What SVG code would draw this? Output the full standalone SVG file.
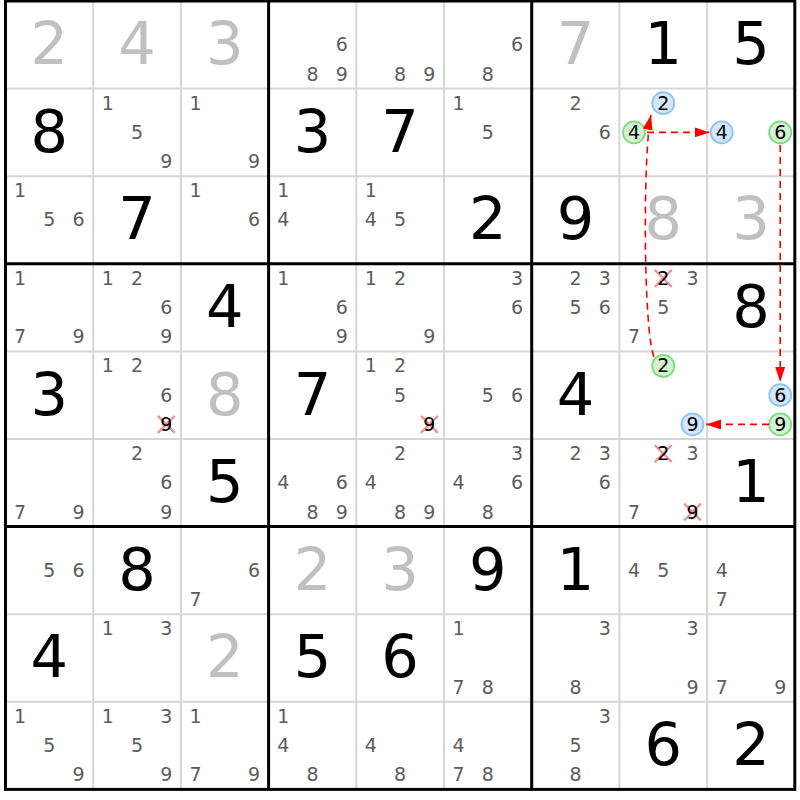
<svg xmlns="http://www.w3.org/2000/svg" width="800" height="800" viewBox="0 0 800 800">
<defs>
<style>
.thin{stroke:#d6d6d6;stroke-width:2;fill:none}
.thick{stroke:#000;stroke-width:3;fill:none}
text{font-family:"DejaVu Sans","Liberation Sans",sans-serif;text-anchor:middle}
.c{font-size:19px;fill:#5c5c5c}
.k{font-size:19px;fill:#000}
.b{font-size:59px;fill:#000}
.g{font-size:59px;fill:#c0c0c0}
.x{stroke:#f29090;stroke-width:2.2;fill:none}
.cg{fill:#d3f4d3;stroke:#7ddb7d;stroke-width:1.8}
.cb{fill:#d3e7fc;stroke:#8dc3f5;stroke-width:1.8}
.link{stroke:#ff0000;stroke-width:1.6;fill:none;stroke-dasharray:7 5;marker-end:url(#ah)}
</style>
<marker id="ah" markerUnits="userSpaceOnUse" markerWidth="16" markerHeight="10" refX="15" refY="5" orient="auto">
<path d="M0,0 L15,5 L0,10 z" fill="#ff0000"/>
</marker>
</defs>
<rect x="0" y="0" width="800" height="800" fill="#ffffff"/>
<g id="grid">
<path class="thin" d="M93.2,1V789.4M180.9,1V789.4M356.3,1V789.4M444,1V789.4M619.4,1V789.4M707.1,1V789.4M5.5,88.6H794.8M5.5,176.2H794.8M5.5,351.4H794.8M5.5,439H794.8M5.5,614.2H794.8M5.5,701.8H794.8"/>
<path class="thick" d="M268.6,1V789.4M531.7,1V789.4M5.5,263.8H794.8M5.5,526.6H794.8"/>
<rect class="thick" x="5.5" y="1" width="789.3" height="788.4"/>
</g>
<g id="cells">
<!-- row 1 -->
<g id="r1c1" transform="translate(5.5,1)"><text class="g" x="43.85" y="63.3">2</text></g>
<g id="r1c2" transform="translate(93.2,1)"><text class="g" x="43.85" y="63.3">4</text></g>
<g id="r1c3" transform="translate(180.9,1)"><text class="g" x="43.85" y="63.3">3</text></g>
<g id="r1c4" transform="translate(268.6,1)"><text class="c" x="73.1" y="50.3">6</text><text class="c" x="43.85" y="79.5">8</text><text class="c" x="73.1" y="79.5">9</text></g>
<g id="r1c5" transform="translate(356.3,1)"><text class="c" x="43.85" y="79.5">8</text><text class="c" x="73.1" y="79.5">9</text></g>
<g id="r1c6" transform="translate(444,1)"><text class="c" x="73.1" y="50.3">6</text><text class="c" x="43.85" y="79.5">8</text></g>
<g id="r1c7" transform="translate(531.7,1)"><text class="g" x="43.85" y="63.3">7</text></g>
<g id="r1c8" transform="translate(619.4,1)"><text class="b" x="43.85" y="63.3">1</text></g>
<g id="r1c9" transform="translate(707.1,1)"><text class="b" x="43.85" y="63.3">5</text></g>
<!-- row 2 -->
<g id="r2c1" transform="translate(5.5,88.6)"><text class="b" x="43.85" y="63.3">8</text></g>
<g id="r2c2" transform="translate(93.2,88.6)"><text class="c" x="14.6" y="21.1">1</text><text class="c" x="43.85" y="50.3">5</text><text class="c" x="73.1" y="79.5">9</text></g>
<g id="r2c3" transform="translate(180.9,88.6)"><text class="c" x="14.6" y="21.1">1</text><text class="c" x="73.1" y="79.5">9</text></g>
<g id="r2c4" transform="translate(268.6,88.6)"><text class="b" x="43.85" y="63.3">3</text></g>
<g id="r2c5" transform="translate(356.3,88.6)"><text class="b" x="43.85" y="63.3">7</text></g>
<g id="r2c6" transform="translate(444,88.6)"><text class="c" x="14.6" y="21.1">1</text><text class="c" x="43.85" y="50.3">5</text></g>
<g id="r2c7" transform="translate(531.7,88.6)"><text class="c" x="43.85" y="21.1">2</text><text class="c" x="73.1" y="50.3">6</text></g>
<g id="r2c8" transform="translate(619.4,88.6)"><circle class="cb" cx="43.85" cy="14.6" r="11"/><text class="k" x="43.85" y="21.1">2</text><circle class="cg" cx="14.6" cy="43.8" r="11"/><text class="k" x="14.6" y="50.3">4</text></g>
<g id="r2c9" transform="translate(707.1,88.6)"><circle class="cb" cx="14.6" cy="43.8" r="11"/><text class="k" x="14.6" y="50.3">4</text><circle class="cg" cx="73.1" cy="43.8" r="11"/><text class="k" x="73.1" y="50.3">6</text></g>
<!-- row 3 -->
<g id="r3c1" transform="translate(5.5,176.2)"><text class="c" x="14.6" y="21.1">1</text><text class="c" x="43.85" y="50.3">5</text><text class="c" x="73.1" y="50.3">6</text></g>
<g id="r3c2" transform="translate(93.2,176.2)"><text class="b" x="43.85" y="63.3">7</text></g>
<g id="r3c3" transform="translate(180.9,176.2)"><text class="c" x="14.6" y="21.1">1</text><text class="c" x="73.1" y="50.3">6</text></g>
<g id="r3c4" transform="translate(268.6,176.2)"><text class="c" x="14.6" y="21.1">1</text><text class="c" x="14.6" y="50.3">4</text></g>
<g id="r3c5" transform="translate(356.3,176.2)"><text class="c" x="14.6" y="21.1">1</text><text class="c" x="14.6" y="50.3">4</text><text class="c" x="43.85" y="50.3">5</text></g>
<g id="r3c6" transform="translate(444,176.2)"><text class="b" x="43.85" y="63.3">2</text></g>
<g id="r3c7" transform="translate(531.7,176.2)"><text class="b" x="43.85" y="63.3">9</text></g>
<g id="r3c8" transform="translate(619.4,176.2)"><text class="g" x="43.85" y="63.3">8</text></g>
<g id="r3c9" transform="translate(707.1,176.2)"><text class="g" x="43.85" y="63.3">3</text></g>
<!-- row 4 -->
<g id="r4c1" transform="translate(5.5,263.8)"><text class="c" x="14.6" y="21.1">1</text><text class="c" x="14.6" y="79.5">7</text><text class="c" x="73.1" y="79.5">9</text></g>
<g id="r4c2" transform="translate(93.2,263.8)"><text class="c" x="14.6" y="21.1">1</text><text class="c" x="43.85" y="21.1">2</text><text class="c" x="73.1" y="50.3">6</text><text class="c" x="73.1" y="79.5">9</text></g>
<g id="r4c3" transform="translate(180.9,263.8)"><text class="b" x="43.85" y="63.3">4</text></g>
<g id="r4c4" transform="translate(268.6,263.8)"><text class="c" x="14.6" y="21.1">1</text><text class="c" x="73.1" y="50.3">6</text><text class="c" x="73.1" y="79.5">9</text></g>
<g id="r4c5" transform="translate(356.3,263.8)"><text class="c" x="14.6" y="21.1">1</text><text class="c" x="43.85" y="21.1">2</text><text class="c" x="73.1" y="79.5">9</text></g>
<g id="r4c6" transform="translate(444,263.8)"><text class="c" x="73.1" y="21.1">3</text><text class="c" x="73.1" y="50.3">6</text></g>
<g id="r4c7" transform="translate(531.7,263.8)"><text class="c" x="43.85" y="21.1">2</text><text class="c" x="73.1" y="21.1">3</text><text class="c" x="43.85" y="50.3">5</text><text class="c" x="73.1" y="50.3">6</text></g>
<g id="r4c8" transform="translate(619.4,263.8)"><path class="x" d="M35.35,6.1L52.35,23.1M52.35,6.1L35.35,23.1"/><text class="k" x="43.85" y="21.1">2</text><text class="c" x="73.1" y="21.1">3</text><text class="c" x="43.85" y="50.3">5</text><text class="c" x="14.6" y="79.5">7</text></g>
<g id="r4c9" transform="translate(707.1,263.8)"><text class="b" x="43.85" y="63.3">8</text></g>
<!-- row 5 -->
<g id="r5c1" transform="translate(5.5,351.4)"><text class="b" x="43.85" y="63.3">3</text></g>
<g id="r5c2" transform="translate(93.2,351.4)"><text class="c" x="14.6" y="21.1">1</text><text class="c" x="43.85" y="21.1">2</text><text class="c" x="73.1" y="50.3">6</text><path class="x" d="M64.6,64.5L81.6,81.5M81.6,64.5L64.6,81.5"/><text class="k" x="73.1" y="79.5">9</text></g>
<g id="r5c3" transform="translate(180.9,351.4)"><text class="g" x="43.85" y="63.3">8</text></g>
<g id="r5c4" transform="translate(268.6,351.4)"><text class="b" x="43.85" y="63.3">7</text></g>
<g id="r5c5" transform="translate(356.3,351.4)"><text class="c" x="14.6" y="21.1">1</text><text class="c" x="43.85" y="21.1">2</text><text class="c" x="43.85" y="50.3">5</text><path class="x" d="M64.6,64.5L81.6,81.5M81.6,64.5L64.6,81.5"/><text class="k" x="73.1" y="79.5">9</text></g>
<g id="r5c6" transform="translate(444,351.4)"><text class="c" x="43.85" y="50.3">5</text><text class="c" x="73.1" y="50.3">6</text></g>
<g id="r5c7" transform="translate(531.7,351.4)"><text class="b" x="43.85" y="63.3">4</text></g>
<g id="r5c8" transform="translate(619.4,351.4)"><circle class="cg" cx="43.85" cy="14.6" r="11"/><text class="k" x="43.85" y="21.1">2</text><circle class="cb" cx="73.1" cy="73" r="11"/><text class="k" x="73.1" y="79.5">9</text></g>
<g id="r5c9" transform="translate(707.1,351.4)"><circle class="cb" cx="73.1" cy="43.8" r="11"/><text class="k" x="73.1" y="50.3">6</text><circle class="cg" cx="73.1" cy="73" r="11"/><text class="k" x="73.1" y="79.5">9</text></g>
<!-- row 6 -->
<g id="r6c1" transform="translate(5.5,439)"><text class="c" x="14.6" y="79.5">7</text><text class="c" x="73.1" y="79.5">9</text></g>
<g id="r6c2" transform="translate(93.2,439)"><text class="c" x="43.85" y="21.1">2</text><text class="c" x="73.1" y="50.3">6</text><text class="c" x="73.1" y="79.5">9</text></g>
<g id="r6c3" transform="translate(180.9,439)"><text class="b" x="43.85" y="63.3">5</text></g>
<g id="r6c4" transform="translate(268.6,439)"><text class="c" x="14.6" y="50.3">4</text><text class="c" x="73.1" y="50.3">6</text><text class="c" x="43.85" y="79.5">8</text><text class="c" x="73.1" y="79.5">9</text></g>
<g id="r6c5" transform="translate(356.3,439)"><text class="c" x="43.85" y="21.1">2</text><text class="c" x="14.6" y="50.3">4</text><text class="c" x="43.85" y="79.5">8</text><text class="c" x="73.1" y="79.5">9</text></g>
<g id="r6c6" transform="translate(444,439)"><text class="c" x="73.1" y="21.1">3</text><text class="c" x="14.6" y="50.3">4</text><text class="c" x="73.1" y="50.3">6</text><text class="c" x="43.85" y="79.5">8</text></g>
<g id="r6c7" transform="translate(531.7,439)"><text class="c" x="43.85" y="21.1">2</text><text class="c" x="73.1" y="21.1">3</text><text class="c" x="73.1" y="50.3">6</text></g>
<g id="r6c8" transform="translate(619.4,439)"><path class="x" d="M35.35,6.1L52.35,23.1M52.35,6.1L35.35,23.1"/><text class="k" x="43.85" y="21.1">2</text><text class="c" x="73.1" y="21.1">3</text><text class="c" x="14.6" y="79.5">7</text><path class="x" d="M64.6,64.5L81.6,81.5M81.6,64.5L64.6,81.5"/><text class="k" x="73.1" y="79.5">9</text></g>
<g id="r6c9" transform="translate(707.1,439)"><text class="b" x="43.85" y="63.3">1</text></g>
<!-- row 7 -->
<g id="r7c1" transform="translate(5.5,526.6)"><text class="c" x="43.85" y="50.3">5</text><text class="c" x="73.1" y="50.3">6</text></g>
<g id="r7c2" transform="translate(93.2,526.6)"><text class="b" x="43.85" y="63.3">8</text></g>
<g id="r7c3" transform="translate(180.9,526.6)"><text class="c" x="73.1" y="50.3">6</text><text class="c" x="14.6" y="79.5">7</text></g>
<g id="r7c4" transform="translate(268.6,526.6)"><text class="g" x="43.85" y="63.3">2</text></g>
<g id="r7c5" transform="translate(356.3,526.6)"><text class="g" x="43.85" y="63.3">3</text></g>
<g id="r7c6" transform="translate(444,526.6)"><text class="b" x="43.85" y="63.3">9</text></g>
<g id="r7c7" transform="translate(531.7,526.6)"><text class="b" x="43.85" y="63.3">1</text></g>
<g id="r7c8" transform="translate(619.4,526.6)"><text class="c" x="14.6" y="50.3">4</text><text class="c" x="43.85" y="50.3">5</text></g>
<g id="r7c9" transform="translate(707.1,526.6)"><text class="c" x="14.6" y="50.3">4</text><text class="c" x="14.6" y="79.5">7</text></g>
<!-- row 8 -->
<g id="r8c1" transform="translate(5.5,614.2)"><text class="b" x="43.85" y="63.3">4</text></g>
<g id="r8c2" transform="translate(93.2,614.2)"><text class="c" x="14.6" y="21.1">1</text><text class="c" x="73.1" y="21.1">3</text></g>
<g id="r8c3" transform="translate(180.9,614.2)"><text class="g" x="43.85" y="63.3">2</text></g>
<g id="r8c4" transform="translate(268.6,614.2)"><text class="b" x="43.85" y="63.3">5</text></g>
<g id="r8c5" transform="translate(356.3,614.2)"><text class="b" x="43.85" y="63.3">6</text></g>
<g id="r8c6" transform="translate(444,614.2)"><text class="c" x="14.6" y="21.1">1</text><text class="c" x="14.6" y="79.5">7</text><text class="c" x="43.85" y="79.5">8</text></g>
<g id="r8c7" transform="translate(531.7,614.2)"><text class="c" x="73.1" y="21.1">3</text><text class="c" x="43.85" y="79.5">8</text></g>
<g id="r8c8" transform="translate(619.4,614.2)"><text class="c" x="73.1" y="21.1">3</text><text class="c" x="73.1" y="79.5">9</text></g>
<g id="r8c9" transform="translate(707.1,614.2)"><text class="c" x="14.6" y="79.5">7</text><text class="c" x="73.1" y="79.5">9</text></g>
<!-- row 9 -->
<g id="r9c1" transform="translate(5.5,701.8)"><text class="c" x="14.6" y="21.1">1</text><text class="c" x="43.85" y="50.3">5</text><text class="c" x="73.1" y="79.5">9</text></g>
<g id="r9c2" transform="translate(93.2,701.8)"><text class="c" x="14.6" y="21.1">1</text><text class="c" x="73.1" y="21.1">3</text><text class="c" x="43.85" y="50.3">5</text><text class="c" x="73.1" y="79.5">9</text></g>
<g id="r9c3" transform="translate(180.9,701.8)"><text class="c" x="14.6" y="21.1">1</text><text class="c" x="14.6" y="79.5">7</text><text class="c" x="73.1" y="79.5">9</text></g>
<g id="r9c4" transform="translate(268.6,701.8)"><text class="c" x="14.6" y="21.1">1</text><text class="c" x="14.6" y="50.3">4</text><text class="c" x="43.85" y="79.5">8</text></g>
<g id="r9c5" transform="translate(356.3,701.8)"><text class="c" x="14.6" y="50.3">4</text><text class="c" x="43.85" y="79.5">8</text></g>
<g id="r9c6" transform="translate(444,701.8)"><text class="c" x="14.6" y="50.3">4</text><text class="c" x="14.6" y="79.5">7</text><text class="c" x="43.85" y="79.5">8</text></g>
<g id="r9c7" transform="translate(531.7,701.8)"><text class="c" x="73.1" y="21.1">3</text><text class="c" x="43.85" y="50.3">5</text><text class="c" x="43.85" y="79.5">8</text></g>
<g id="r9c8" transform="translate(619.4,701.8)"><text class="b" x="43.85" y="63.3">6</text></g>
<g id="r9c9" transform="translate(707.1,701.8)"><text class="b" x="43.85" y="63.3">2</text></g>
</g>
<g id="links">
<path class="link" d="M654,357 C643,330 643,150 651,115"/>
<path class="link" d="M647,132.4 H709.5"/>
<path class="link" d="M780.2,145 V382"/>
<path class="link" d="M769,424.4 H706"/>
</g>
</svg>
